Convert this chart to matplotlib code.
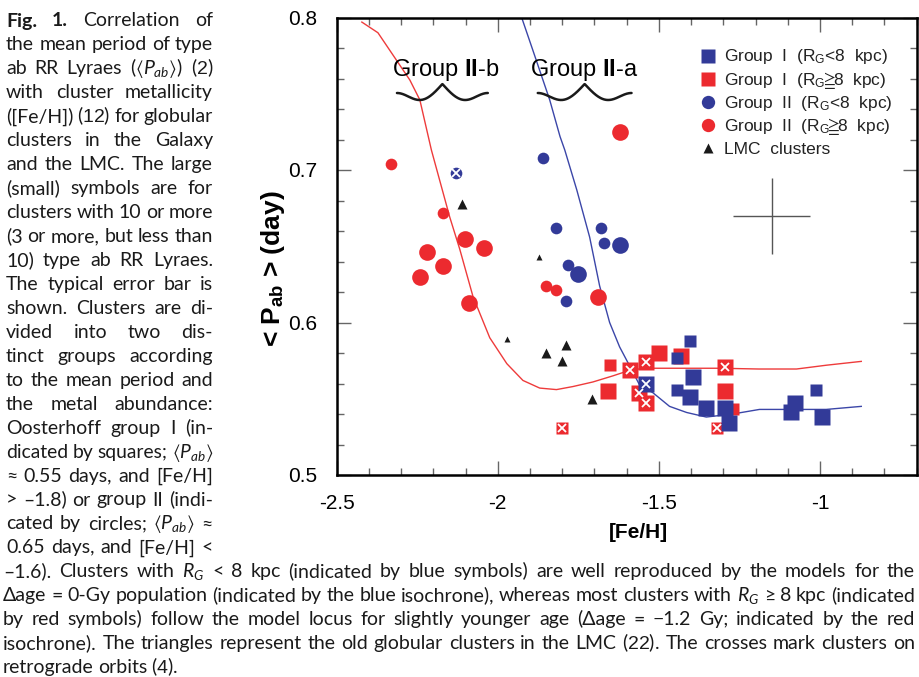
import numpy as np
import matplotlib
matplotlib.use('Agg')
import matplotlib.pyplot as plt
from matplotlib.ticker import MultipleLocator, FuncFormatter

plt.rcParams['font.family'] = ['Liberation Sans', 'DejaVu Sans']
plt.rcParams['axes.unicode_minus'] = False
plt.rcParams['mathtext.fontset'] = 'custom'
plt.rcParams['mathtext.rm'] = 'Liberation Sans'
plt.rcParams['mathtext.bf'] = 'Liberation Sans:bold'
plt.rcParams['mathtext.it'] = 'Lato:italic'
plt.rcParams['mathtext.fallback'] = 'stix'

RED = '#ec2a2f'
BLUE = '#323a98'

# ---- data ([Fe/H], <P_ab>) ----
# Group I (squares)
g1_blue_big_x = [-1.541, -1.393, -1.403, -1.353, -1.294, -1.281, -1.079, -1.089, -0.993]
g1_blue_big_y = [0.560, 0.564, 0.551, 0.544, 0.544, 0.534, 0.547, 0.541, 0.538]
g1_blue_small_x = [-1.443, -1.403, -1.445, -1.012]
g1_blue_small_y = [0.577, 0.588, 0.556, 0.556]
g1_red_big_x = [-1.659, -1.591, -1.541, -1.501, -1.563, -1.541, -1.433, -1.294, -1.294]
g1_red_big_y = [0.555, 0.569, 0.574, 0.580, 0.554, 0.547, 0.578, 0.571, 0.555]
g1_red_small_x = [-1.653, -1.801, -1.321, -1.271]
g1_red_small_y = [0.572, 0.531, 0.531, 0.543]

# Group II (circles)
g2_blue_big_x = [-1.622, -1.752]
g2_blue_big_y = [0.651, 0.632]
g2_blue_small_x = [-2.130, -1.861, -1.820, -1.680, -1.671, -1.783, -1.789]
g2_blue_small_y = [0.698, 0.708, 0.662, 0.662, 0.652, 0.638, 0.614]
g2_red_big_x = [-2.102, -2.043, -2.220, -2.171, -2.242, -2.090, -1.690, -1.622]
g2_red_big_y = [0.655, 0.649, 0.646, 0.637, 0.630, 0.613, 0.617, 0.725]
g2_red_small_x = [-2.331, -2.171, -1.851, -1.820]
g2_red_small_y = [0.704, 0.672, 0.624, 0.621]

# LMC clusters (triangles)
lmc_big_x = [-2.111, -1.851, -1.789, -1.801, -1.709]
lmc_big_y = [0.678, 0.580, 0.585, 0.575, 0.550]
lmc_small_x = [-1.872, -1.972]
lmc_small_y = [0.643, 0.589]

# clusters on retrograde orbits (crosses)
retro_x = [-2.130, -1.801, -1.591, -1.541, -1.541, -1.563, -1.541, -1.294, -1.321]
retro_y = [0.698, 0.531, 0.569, 0.574, 0.560, 0.554, 0.547, 0.571, 0.531]

# isochrones
iso_blue_x = [-1.926, -1.892, -1.839, -1.807, -1.792, -1.755, -1.715, -1.684, -1.653, -1.622,
              -1.597, -1.560, -1.519, -1.467, -1.414, -1.353, -1.271, -1.188, -1.086, -0.981, -0.872]
iso_blue_y = [0.800, 0.779, 0.746, 0.722, 0.713, 0.687, 0.656, 0.624, 0.600, 0.584,
              0.574, 0.559, 0.554, 0.545, 0.541, 0.538, 0.540, 0.543, 0.543, 0.543, 0.545]
iso_red_x = [-2.422, -2.372, -2.273, -2.242, -2.206, -2.149, -2.118, -2.077, -2.025, -1.972,
             -1.922, -1.870, -1.818, -1.767, -1.705, -1.643, -1.600, -1.550, -1.312, -1.190,
             -1.073, -0.980, -0.872]
iso_red_y = [0.797, 0.790, 0.759, 0.746, 0.713, 0.669, 0.648, 0.617, 0.590, 0.573,
             0.562, 0.557, 0.556, 0.558, 0.561, 0.565, 0.568, 0.570, 0.570, 0.5695,
             0.5695, 0.572, 0.5745]

# typical error bar
err_x, err_y = -1.15, 0.670
err_dx, err_dy = 0.12, 0.025

legend_labels = [r'Group  I  (R$_\mathregular{G}$<8  kpc)',
                 r'Group  I  (R$_\mathregular{G}\!\!{\geqq}\!\!$8  kpc)',
                 r'Group  II  (R$_\mathregular{G}$<8  kpc)',
                 r'Group  II  (R$_\mathregular{G}\!\!{\geqq}\!\!$8  kpc)',
                 'LMC  clusters']

W, H = 920, 677
fig = plt.figure(figsize=(W / 100, H / 100), dpi=100)
ax = fig.add_axes([336.7 / W, (H - 475) / H, 580 / W, 457.5 / H])

ax.plot(iso_red_x, iso_red_y, color='#ee3b3b', lw=1.0, zorder=2)
ax.plot(iso_blue_x, iso_blue_y, color='#3b46a8', lw=1.0, zorder=2)

ax.errorbar([err_x], [err_y], xerr=[err_dx], yerr=[err_dy], fmt='none',
            ecolor='#555555', elinewidth=1.0, capsize=0, zorder=2)

big, small = 12, 8.4
ax.plot(g2_red_big_x, g2_red_big_y, 'o', ms=big, color=RED, mec='none', zorder=3)
ax.plot(g2_red_small_x, g2_red_small_y, 'o', ms=small, color=RED, mec='none', zorder=3)
ax.plot(g2_blue_big_x, g2_blue_big_y, 'o', ms=big, color=BLUE, mec='none', zorder=3)
ax.plot(g2_blue_small_x, g2_blue_small_y, 'o', ms=small, color=BLUE, mec='none', zorder=3)
ax.plot(g1_red_big_x, g1_red_big_y, 's', ms=big, color=RED, mec='none', zorder=3)
ax.plot(g1_red_small_x, g1_red_small_y, 's', ms=small, color=RED, mec='none', zorder=3)
ax.plot(g1_blue_big_x, g1_blue_big_y, 's', ms=big, color=BLUE, mec='none', zorder=4)
ax.plot(g1_blue_small_x, g1_blue_small_y, 's', ms=small, color=BLUE, mec='none', zorder=4)
ax.plot(lmc_big_x, lmc_big_y, '^', ms=7.2, color='#1a1a1a', mec='none', zorder=3)
ax.plot(lmc_small_x, lmc_small_y, '^', ms=4.4, color='#1a1a1a', mec='none', zorder=3)
ax.plot(retro_x, retro_y, 'x', ms=5.5, mew=1.3, color='white', zorder=5)

ax.set_xlim(-2.5, -0.7)
ax.set_ylim(0.5, 0.8)
ax.xaxis.set_major_locator(MultipleLocator(0.5))
ax.xaxis.set_minor_locator(MultipleLocator(0.1))
ax.yaxis.set_major_locator(MultipleLocator(0.1))
ax.yaxis.set_minor_locator(MultipleLocator(0.02))
ax.xaxis.set_major_formatter(FuncFormatter(lambda v, p: f'{v:g}'))
ax.yaxis.set_major_formatter(FuncFormatter(lambda v, p: f'{v:g}'))
ax.tick_params(which='both', direction='in', top=True, right=True, color='#666666', width=1.0)
ax.tick_params(which='major', length=10, pad=14, labelsize=15)
ax.tick_params(which='minor', length=5)
for s in ax.spines.values():
    s.set_linewidth(1.8)

ax.set_xlabel('[Fe/H]', fontsize=15, fontweight='bold', va='center')
ax.xaxis.set_label_coords((638 - 336.7) / 580, (475 - 533) / 457.5)
ax.set_ylabel(r'< P$_{\mathbf{ab}}$ > (day)', fontsize=19, fontweight='bold', va='center')
ax.yaxis.set_label_coords((273 - 336.7) / 580, (475 - 269) / 457.5)

# group labels with wavy braces
def brace(x0, x1, yv):
    u = np.linspace(0, 1, 300)
    s = np.where(u <= 0.5, u, 1 - u) * 2
    h = np.where(s < 0.5, 3.5 * (1 + np.cos(2 * np.pi * s)),
                 16 * (1 - np.cos(np.pi * (s - 0.5))))
    ax.plot(x0 + u * (x1 - x0), yv + h / 1525, color='#1a1a1a', lw=1.8,
            solid_capstyle='round', zorder=3)

ax.text(-2.163, 0.7616, r'Group $\mathbf{II}$-b', fontsize=17, ha='center', va='baseline')
ax.text(-1.733, 0.7616, r'Group $\mathbf{II}$-a', fontsize=17, ha='center', va='baseline')
brace(-2.313, -2.031, 0.7459)
brace(-1.876, -1.585, 0.7459)

# legend, drawn by hand in axes fraction
keys = [('s', BLUE, 9.4), ('s', RED, 9.4), ('o', BLUE, 9.6), ('o', RED, 9.6), ('^', '#1a1a1a', 6.5)]
for k, ((mk, col, ms), lab) in enumerate(zip(keys, legend_labels)):
    row = 55.5 + 23.2 * k
    ya = (475 - row) / 457.5
    ax.plot([(708 - 336.7) / 580], [ya], ls='none', marker=mk, ms=ms, color=col,
            mec='none', transform=ax.transAxes, clip_on=False)
    ax.text((724 - 336.7) / 580, (475 - row - 6) / 457.5, lab, fontsize=12.5,
            ha='left', va='baseline', transform=ax.transAxes, color='#222222')

# ---- caption (justified) ----
caption = [
    'Fig. 1. Correlation of',
    'the mean period of type',
    r'ab RR Lyraes ($\langle{P_{ab}}\rangle$) ($\mathit{2}$)',
    'with cluster metallicity',
    r'([Fe/H]) ($\mathit{12}$) for globular',
    'clusters in the Galaxy',
    'and the LMC. The large',
    '(small) symbols are for',
    'clusters with 10 or more',
    '(3 or more, but less than',
    '10) type ab RR Lyraes.',
    'The typical error bar is',
    'shown. Clusters are di-',
    'vided into two dis-',
    'tinct groups according',
    'to the mean period and',
    'the metal abundance:',
    'Oosterhoff group I (in-',
    r'dicated by squares; $\langle{P_{ab}}\rangle$',
    '≈ 0.55 days, and [Fe/H]',
    '> –1.8) or group II (indi-',
    r'cated by circles; $\langle{P_{ab}}\rangle$ ≈',
    '0.65 days, and [Fe/H] <',
    r'–1.6). Clusters with $R_G$ < 8 kpc (indicated by blue symbols) are well reproduced by the models for the',
    r'Δage = 0-Gy population (indicated by the blue isochrone), whereas most clusters with $R_G$ ≥ 8 kpc (indicated',
    'by red symbols) follow the model locus for slightly younger age (Δage = −1.2 Gy; indicated by the red',
    r'isochrone). The triangles represent the old globular clusters in the LMC ($\mathit{22}$). The crosses mark clusters on',
    r'retrograde orbits ($\mathit{4}$).',
]
cap_font = ['Lato', 'DejaVu Sans']
cap_size = 14
renderer = fig.canvas.get_renderer()

for i, line in enumerate(caption):
    y = 26.5 + 23.95 * i
    x_left = 6 if i < 23 else 3
    x_right = 213 if i < 23 else 915
    justify = i < len(caption) - 1
    toks = line.split(' ')
    size = cap_size
    for attempt in range(2):
        items = []
        for j, tok in enumerate(toks):
            wt = 'bold' if (i == 0 and j < 2) else 'normal'
            t = fig.text(0, 1 - y / H, tok, fontsize=size, family=cap_font,
                         weight=wt, ha='left', va='baseline', color='#1a1a1a')
            items.append(t)
        widths = [t.get_window_extent(renderer).width for t in items]
        space = 0.2 * size * 100 / 72
        natural = sum(widths) + space * (len(toks) - 1)
        target = x_right - x_left
        if natural > target and attempt == 0:
            for t in items:
                t.remove()
            size = size * target / natural * 0.995
            continue
        break
    gap = (target - sum(widths)) / (len(toks) - 1) if (justify and len(toks) > 1) else space
    x = x_left
    for t, w in zip(items, widths):
        t.set_x(x / W)
        x += w + gap

fig.savefig('out.png', dpi=100)
